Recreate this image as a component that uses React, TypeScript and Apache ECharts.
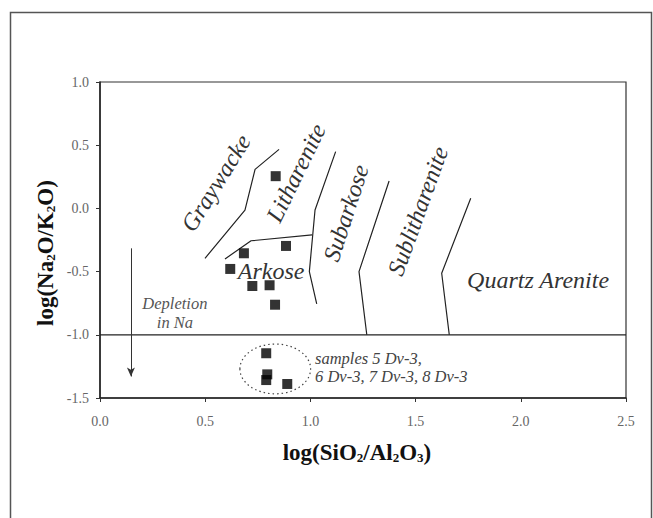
import React, { useEffect, useRef } from "react";
import * as echarts from "echarts";

// ---- data ----
const xTicks = [0, 0.5, 1.0, 1.5, 2.0, 2.5];
const yTicks = [-1.5, -1.0, -0.5, 0.0, 0.5, 1.0];

const samplePoints: [number, number][] = [
  [0.835, 0.255],
  [0.884, -0.297],
  [0.684, -0.355],
  [0.619, -0.479],
  [0.724, -0.614],
  [0.806, -0.608],
  [0.832, -0.762],
  [0.79, -1.146],
  [0.795, -1.313],
  [0.79, -1.358],
  [0.89, -1.389],
];

const graywackeBoundary: [number, number][] = [
  [0.499, -0.395],
  [0.689, -0.013],
  [0.737, 0.309],
  [0.851, 0.467],
];
const arkoseBoundary: [number, number][] = [
  [0.594, -0.4],
  [0.718, -0.256],
  [1.008, -0.21],
];
const litharBoundary: [number, number][] = [
  [1.12, 0.449],
  [1.022, -0.013],
  [0.995, -0.5],
  [1.03, -0.756],
];
const subarkoseBoundary: [number, number][] = [
  [1.374, 0.217],
  [1.231, -0.5],
  [1.268, -1.0],
];
const sublithBoundary: [number, number][] = [
  [1.762, 0.08],
  [1.624, -0.513],
  [1.66, -1.0],
];
const depletionLimit: [number, number][] = [
  [0, -1.0],
  [2.5, -1.0],
];
const depletionArrow: [number, number][] = [
  [0.147, -0.316],
  [0.147, -1.33],
];
// centre x, centre y, radius x, radius y (data units)
const sampleEllipse = [0.833, -1.27, 0.168, 0.197];

const fieldLabels = [
  { text: "Graywacke", x: 0.551, y: 0.201, rot: 58 },
  { text: "Litharenite", x: 0.932, y: 0.28, rot: 64 },
  { text: "Subarkose", x: 1.169, y: -0.036, rot: 72 },
  { text: "Sublitharenite", x: 1.511, y: -0.021, rot: 70 },
  { text: "Quartz Arenite", x: 2.082, y: -0.566, rot: 0 },
  { text: "Arkose", x: 0.813, y: -0.495, rot: 0 },
];
const noteLabel = { text: "Depletion\nin Na", x: 0.356, y: -0.828 };
const sampleLabel = { text: "samples 5 Dv-3,\n6 Dv-3, 7 Dv-3, 8 Dv-3", x: 1.022, y: -1.26 };

const SERIF = "Liberation Serif";
const LINE_COLOR = "#222";

function boundary(data: [number, number][]) {
  return {
    type: "line",
    data,
    symbol: "none",
    lineStyle: { color: LINE_COLOR, width: 1.2 },
    silent: true,
    z: 2,
  };
}

export default function App() {
  const ref = useRef<HTMLDivElement>(null);

  useEffect(() => {
    if (!ref.current) return;
    const chart = echarts.init(ref.current, undefined, { renderer: "svg" });

    const baseGraphic: any[] = [
      {
        type: "rect",
        silent: true,
        shape: { x: 10.5, y: 12.5, width: 641, height: 530 },
        style: { fill: "none", stroke: "#555", lineWidth: 1.5 },
      },
      {
        type: "text",
        x: 357,
        y: 452,
        silent: true,
        style: {
          text: "{a|log(SiO}{s|2}{a|/Al}{s|2}{a|O}{s|3}{a|)}",
          align: "center",
          verticalAlign: "middle",
          rich: {
            a: { fontFamily: SERIF, fontWeight: "bold", fontSize: 23, fill: "#111", verticalAlign: "middle" },
            s: { fontFamily: SERIF, fontWeight: "bold", fontSize: 13, fill: "#111", verticalAlign: "middle", padding: [10, 0, 0, 0] },
          },
        },
      },
      {
        type: "text",
        x: 45,
        y: 253,
        rotation: Math.PI / 2,
        silent: true,
        style: {
          text: "{a|log(Na}{s|2}{a|O/K}{s|2}{a|O)}",
          align: "center",
          verticalAlign: "middle",
          rich: {
            a: { fontFamily: SERIF, fontWeight: "bold", fontSize: 23, fill: "#111", verticalAlign: "middle" },
            s: { fontFamily: SERIF, fontWeight: "bold", fontSize: 13, fill: "#111", verticalAlign: "middle", padding: [10, 0, 0, 0] },
          },
        },
      },
    ];

    const option: any = {
      animation: false,
      backgroundColor: "#fff",
      textStyle: { fontFamily: SERIF },
      grid: {
        left: 100,
        top: 82,
        right: 27,
        bottom: 120,
        show: true,
        borderColor: "#333",
        borderWidth: 1.2,
      },
      xAxis: {
        type: "value",
        min: xTicks[0],
        max: xTicks[xTicks.length - 1],
        interval: 0.5,
        axisLine: { onZero: false, lineStyle: { color: "#222", width: 1.5 } },
        axisTick: { show: true, length: 4, lineStyle: { color: "#333" } },
        splitLine: { show: false },
        axisLabel: {
          margin: 16,
          fontFamily: SERIF,
          fontSize: 14,
          color: "#666",
          formatter: (v: number) => v.toFixed(1),
        },
      },
      yAxis: {
        type: "value",
        min: yTicks[0],
        max: yTicks[yTicks.length - 1],
        interval: 0.5,
        axisLine: { onZero: false, lineStyle: { color: "#222", width: 1.5 } },
        axisTick: { show: true, length: 4, lineStyle: { color: "#333" } },
        splitLine: { show: false },
        axisLabel: {
          margin: 11,
          fontFamily: SERIF,
          fontSize: 14,
          color: "#666",
          formatter: (v: number) => v.toFixed(1),
        },
      },
      graphic: baseGraphic,
      series: [
        boundary(graywackeBoundary),
        boundary(arkoseBoundary),
        boundary(litharBoundary),
        boundary(subarkoseBoundary),
        boundary(sublithBoundary),
        boundary(depletionLimit),
        {
          type: "line",
          data: [],
          silent: true,
          markLine: {
            silent: true,
            symbol: ["none", "arrow"],
            symbolSize: [6, 9],
            label: { show: false },
            lineStyle: { color: "#333", width: 1, type: "solid" },
            data: [
              [
                { coord: depletionArrow[0] },
                { coord: depletionArrow[1] },
              ],
            ],
          },
        },
        {
          type: "custom",
          silent: true,
          data: [sampleEllipse],
          renderItem: (_p: any, api: any) => {
            const c = api.coord([api.value(0), api.value(1)]);
            const e = api.coord([api.value(0) + api.value(2), api.value(1) + api.value(3)]);
            return {
              type: "ellipse",
              shape: { cx: c[0], cy: c[1], rx: Math.abs(e[0] - c[0]), ry: Math.abs(e[1] - c[1]) },
              style: { fill: "none", stroke: "#444", lineWidth: 1.2, lineDash: [1.5, 3] },
            };
          },
          z: 3,
        },
        {
          type: "scatter",
          data: samplePoints,
          symbol: "rect",
          symbolSize: 10,
          itemStyle: { color: "#000" },
          z: 5,
        },
      ],
    };

    chart.setOption(option);

    // place the annotation texts through the chart's own scales
    const toPx = (x: number, y: number) =>
      chart.convertToPixel({ xAxisIndex: 0, yAxisIndex: 0 }, [x, y]) as number[];

    const labelGraphic: any[] = fieldLabels.map((l) => {
      const p = toPx(l.x, l.y);
      return {
        type: "text",
        x: p[0],
        y: p[1],
        rotation: (l.rot * Math.PI) / 180,
        silent: true,
        z: 10,
        style: {
          text: l.text,
          fontFamily: SERIF,
          fontStyle: "italic",
          fontSize: 24,
          fill: "#333",
          align: "center",
          verticalAlign: "middle",
        },
      };
    });
    const np = toPx(noteLabel.x, noteLabel.y);
    labelGraphic.push({
      type: "text",
      x: np[0],
      y: np[1],
      silent: true,
      z: 10,
      style: {
        text: noteLabel.text,
        fontFamily: SERIF,
        fontStyle: "italic",
        fontSize: 16.5,
        lineHeight: 18.5,
        fill: "#555",
        align: "center",
        verticalAlign: "middle",
      },
    });
    const sp = toPx(sampleLabel.x, sampleLabel.y);
    labelGraphic.push({
      type: "text",
      x: sp[0],
      y: sp[1],
      silent: true,
      z: 10,
      style: {
        text: sampleLabel.text,
        fontFamily: SERIF,
        fontStyle: "italic",
        fontSize: 16.5,
        lineHeight: 18.5,
        fill: "#444",
        align: "left",
        verticalAlign: "middle",
      },
    });

    chart.setOption({ graphic: [...baseGraphic, ...labelGraphic] });

    return () => chart.dispose();
  }, []);

  return (
    <div
      ref={ref}
      style={{ position: "fixed", left: 0, top: 0, width: 653, height: 518, background: "#fff" }}
    />
  );
}
